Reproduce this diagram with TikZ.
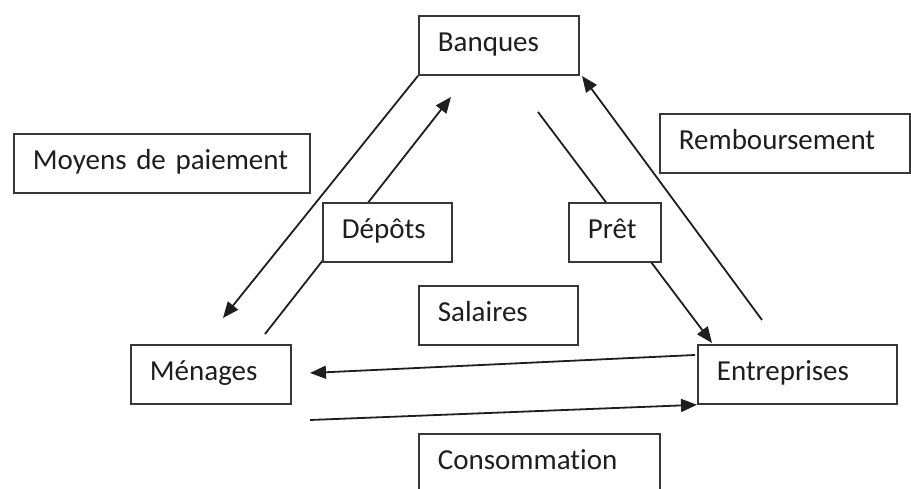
\documentclass[tikz,border=0pt]{standalone}
\usepackage{fontspec}
\setmainfont[Ligatures=NoCommon,RawFeature=-liga,WordSpace=0.6]{Carlito}
\usepackage{tikz}
\usetikzlibrary{arrows.meta, positioning, calc}
\definecolor{mydark}{RGB}{30,30,30}
\definecolor{mygrey}{RGB}{55,55,55}
\tikzset{
  box/.style={rectangle,draw=mygrey,fill=white,line width=1.8pt,anchor=north west,
    text width=#1,align=left,inner xsep=19pt,inner ysep=0pt,minimum height=59pt,
    text height=20pt,text depth=7pt,font=\fontsize{29}{34}\selectfont,text=mydark},
  arrow/.style={-{Triangle[length=16pt,width=13pt]},line width=1.8pt,color=mydark}
}
\begin{document}
\begin{tikzpicture}[x=1pt,y=-1pt]
  \clip (0,0) rectangle (911,489);

  % free ends of the arrows
  \coordinate (depStart) at (265,334);
  \coordinate (depTip) at (451,97);
  \coordinate (pretStart) at (538,112);
  \coordinate (pretTip) at (712,343);
  \coordinate (moyTip) at (223,318);
  \coordinate (remStart) at (762,320);
  \coordinate (remTip) at (582,76);
  \coordinate (salStart) at (695,355);
  \coordinate (salTip) at (310,373);
  \coordinate (conStart) at (310,420);

  % arrows running behind the labels
  \draw[arrow] (depStart) -- (depTip);
  \draw[arrow] (pretStart) -- (pretTip);

  % Boxes
  \node[box=122pt] (banques) at (418,15) {Banques};
  \node[box=258pt] (moyens) at (13,133) {Moyens de paiement};
  \node[box=212pt] (rembours) at (659,113) {Remboursement};
  \node[box=91pt] (depots) at (322,202) {Dépôts};
  \node[box=54pt] (pret) at (568,202) {Prêt};
  \node[box=121pt] (salaires) at (418,285) {Salaires};
  \node[box=122pt] (menages) at (130,344) {Ménages};
  \node[box=161pt] (entreprises) at (697,344) {Entreprises};
  \node[box=203pt] (conso) at (418,433) {Consommation};

  % flows
  \draw[arrow] (banques.south west) -- (moyTip);
  \draw[arrow] (remStart) -- (remTip);
  \draw[arrow] (salStart) -- (salTip);
  \draw[arrow] (conStart) -- (entreprises.south west);
\end{tikzpicture}
\end{document}
